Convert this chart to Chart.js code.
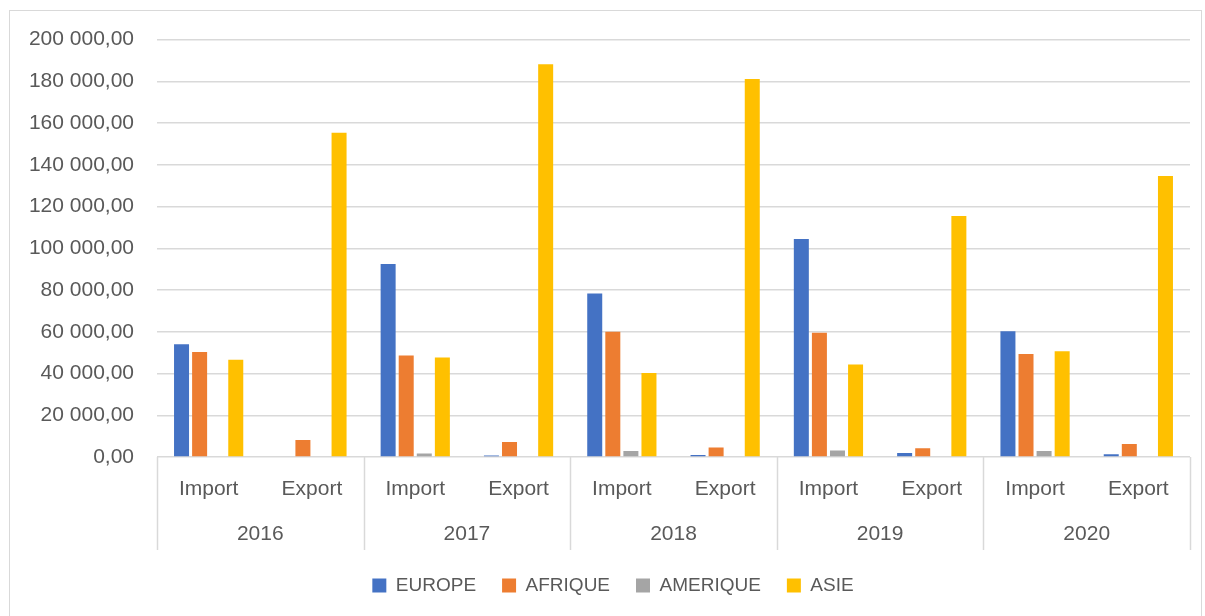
<!DOCTYPE html>
<html>
<head>
<meta charset="utf-8">
<script src="https://cdn.jsdelivr.net/npm/chart.js@4/dist/chart.umd.min.js"></script>
<style>
  html, body { margin: 0; padding: 0; background: #ffffff; }
  body { width: 1205px; height: 616px; overflow: hidden; position: relative; }
  #frame { position: absolute; left: 9px; top: 10px; width: 1193px; height: 620px; border: 1px solid #d9d9d9; box-sizing: border-box; }
  #wrap { position: absolute; left: 10px; top: 4px; width: 1192px; height: 612px; }
</style>
</head>
<body>
<div id="frame"></div>
<div id="wrap"><canvas id="c"></canvas></div>
<script>
const categories = ['Import', 'Export', 'Import', 'Export', 'Import', 'Export', 'Import', 'Export', 'Import', 'Export'];
const years = ['2016', '2017', '2018', '2019', '2020'];
const europe   = [54000, 0, 92500, 700, 78400, 1000, 104500, 1900, 60200, 1300];
const afrique  = [50300, 8200, 48600, 7200, 60000, 4500, 59500, 4200, 49400, 6200];
const amerique = [400, 0, 1700, 0, 2900, 0, 3100, 0, 2900, 0];
const asie     = [46600, 155400, 47700, 188200, 40200, 181100, 44300, 115500, 50700, 134700];
const seriesNames = ['EUROPE', 'AFRIQUE', 'AMERIQUE', 'ASIE'];

const FONT = "'Liberation Sans', Arial, sans-serif";
const TXT = '#595959';
const GRID = '#d9d9d9';

function fmt(v) {
  const parts = Number(v).toFixed(2).split('.');
  const intPart = parts[0].replace(/\B(?=(\d{3})+(?!\d))/g, ' ');
  return intPart + ',' + parts[1];
}

const yearSeparators = {
  id: 'yearSeparators',
  afterLayout(chart) {
    if (chart.legend) { chart.legend.left += 26; }
  },
  afterDraw(chart) {
    const x = chart.scales.x, x2 = chart.scales.x2, ctx = chart.ctx;
    const top = chart.chartArea.bottom, bottom = x2.bottom;
    const xs = [x.left];
    for (let i = 2; i < categories.length; i += 2) {
      xs.push((x.getPixelForValue(i - 1) + x.getPixelForValue(i)) / 2);
    }
    xs.push(x.right);
    ctx.save();
    ctx.strokeStyle = GRID;
    ctx.lineWidth = 1.5;
    xs.forEach(px => {
      const p = Math.round(px) + 0.5;
      ctx.beginPath();
      ctx.moveTo(p, top);
      ctx.lineTo(p, bottom);
      ctx.stroke();
    });
    ctx.restore();
  }
};

const colors = ['#4472C4', '#ED7D31', '#A5A5A5', '#FFC000'];
const values = [europe, afrique, amerique, asie];

new Chart(document.getElementById('c'), {
  type: 'bar',
  data: {
    labels: categories,
    datasets: seriesNames.map((n, i) => ({
      label: n,
      data: values[i],
      backgroundColor: colors[i],
      borderWidth: 0,
      categoryPercentage: 0.7,
      barPercentage: 0.83
    }))
  },
  options: {
    responsive: true,
    maintainAspectRatio: false,
    animation: false,
    layout: { padding: { top: 10, right: 12, bottom: 11, left: 0 } },
    plugins: {
      tooltip: { enabled: false },
      legend: {
        position: 'bottom',
        labels: {
          boxWidth: 14,
          boxHeight: 14,
          padding: 26,
          color: TXT,
          font: { family: FONT, size: 19 }
        }
      }
    },
    scales: {
      y: {
        min: 0,
        max: 200000,
        ticks: {
          stepSize: 20000,
          color: TXT,
          padding: 23,
          font: { family: FONT, size: 21 },
          callback: v => fmt(v)
        },
        grid: { color: GRID, lineWidth: 1.5, drawTicks: false },
        border: { display: false },
        afterFit: s => { s.width = 147; }
      },
      x: {
        grid: { display: false, drawTicks: false },
        border: { display: false },
        ticks: {
          color: TXT,
          padding: 20,
          maxRotation: 0,
          autoSkip: false,
          font: { family: FONT, size: 21 }
        },
        afterFit: s => { s.height = 45; }
      },
      x2: {
        type: 'category',
        labels: years,
        position: 'bottom',
        offset: true,
        grid: { display: false, drawTicks: false },
        border: { display: false },
        ticks: {
          color: TXT,
          padding: 20,
          maxRotation: 0,
          font: { family: FONT, size: 21 }
        },
        afterFit: s => { s.height = 48; }
      }
    }
  },
  plugins: [yearSeparators]
});
</script>
</body>
</html>
